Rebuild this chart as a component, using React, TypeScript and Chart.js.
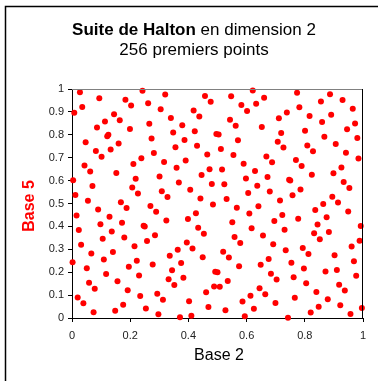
import React, { useEffect, useRef } from "react";
import { Chart, registerables } from "chart.js";

Chart.register(...registerables);

// Base-2 coordinates of points 1..256
const base2: number[] = [
  0.5, 0.25, 0.75, 0.125, 0.625, 0.375, 0.875, 0.0625, 0.5625, 0.3125, 0.8125, 0.1875, 0.6875, 0.4375, 0.9375,
  0.0313, 0.5313, 0.2813, 0.7813, 0.1563, 0.6563, 0.4063, 0.9063, 0.0938, 0.5938, 0.3438, 0.8438, 0.2188, 0.7188, 0.4688, 0.9688,
  0.0156, 0.5156, 0.2656, 0.7656, 0.1406, 0.6406, 0.3906, 0.8906, 0.0781, 0.5781, 0.3281, 0.8281, 0.2031, 0.7031, 0.4531, 0.9531,
  0.0469, 0.5469, 0.2969, 0.7969, 0.1719, 0.6719, 0.4219, 0.9219, 0.1094, 0.6094, 0.3594, 0.8594, 0.2344, 0.7344, 0.4844, 0.9844,
  0.0078, 0.5078, 0.2578, 0.7578, 0.1328, 0.6328, 0.3828, 0.8828, 0.0703, 0.5703, 0.3203, 0.8203, 0.1953, 0.6953, 0.4453, 0.9453,
  0.0391, 0.5391, 0.2891, 0.7891, 0.1641, 0.6641, 0.4141, 0.9141, 0.1016, 0.6016, 0.3516, 0.8516, 0.2266, 0.7266, 0.4766, 0.9766,
  0.0234, 0.5234, 0.2734, 0.7734, 0.1484, 0.6484, 0.3984, 0.8984, 0.0859, 0.5859, 0.3359, 0.8359, 0.2109, 0.7109, 0.4609, 0.9609,
  0.0547, 0.5547, 0.3047, 0.8047, 0.1797, 0.6797, 0.4297, 0.9297, 0.1172, 0.6172, 0.3672, 0.8672, 0.2422, 0.7422, 0.4922, 0.9922,
  0.0039, 0.5039, 0.2539, 0.7539, 0.1289, 0.6289, 0.3789, 0.8789, 0.0664, 0.5664, 0.3164, 0.8164, 0.1914, 0.6914, 0.4414, 0.9414,
  0.0352, 0.5352, 0.2852, 0.7852, 0.1602, 0.6602, 0.4102, 0.9102, 0.0977, 0.5977, 0.3477, 0.8477, 0.2227, 0.7227, 0.4727, 0.9727,
  0.0195, 0.5195, 0.2695, 0.7695, 0.1445, 0.6445, 0.3945, 0.8945, 0.082, 0.582, 0.332, 0.832, 0.207, 0.707, 0.457, 0.957,
  0.0508, 0.5508, 0.3008, 0.8008, 0.1758, 0.6758, 0.4258, 0.9258, 0.1133, 0.6133, 0.3633, 0.8633, 0.2383, 0.7383, 0.4883, 0.9883,
  0.0117, 0.5117, 0.2617, 0.7617, 0.1367, 0.6367, 0.3867, 0.8867, 0.0742, 0.5742, 0.3242, 0.8242, 0.1992, 0.6992, 0.4492, 0.9492,
  0.043, 0.543, 0.293, 0.793, 0.168, 0.668, 0.418, 0.918, 0.1055, 0.6055, 0.3555, 0.8555, 0.2305, 0.7305, 0.4805, 0.9805,
  0.0273, 0.5273, 0.2773, 0.7773, 0.1523, 0.6523, 0.4023, 0.9023, 0.0898, 0.5898, 0.3398, 0.8398, 0.2148, 0.7148, 0.4648, 0.9648,
  0.0586, 0.5586, 0.3086, 0.8086, 0.1836, 0.6836, 0.4336, 0.9336, 0.1211, 0.6211, 0.3711, 0.8711, 0.2461, 0.7461, 0.4961, 0.9961,
  0.002,
];

// Base-5 coordinates of points 1..256
const base5: number[] = [
  0.2, 0.4, 0.6, 0.8, 0.04, 0.24, 0.44, 0.64, 0.84, 0.08, 0.28, 0.48, 0.68, 0.88, 0.12, 0.32, 0.52, 0.72, 0.92, 0.16, 0.36, 0.56, 0.76, 0.96,
  0.008, 0.208, 0.408, 0.608, 0.808, 0.048, 0.248, 0.448, 0.648, 0.848, 0.088, 0.288, 0.488, 0.688, 0.888, 0.128, 0.328, 0.528, 0.728, 0.928, 0.168, 0.368, 0.568, 0.768, 0.968,
  0.016, 0.216, 0.416, 0.616, 0.816, 0.056, 0.256, 0.456, 0.656, 0.856, 0.096, 0.296, 0.496, 0.696, 0.896, 0.136, 0.336, 0.536, 0.736, 0.936, 0.176, 0.376, 0.576, 0.776, 0.976,
  0.024, 0.224, 0.424, 0.624, 0.824, 0.064, 0.264, 0.464, 0.664, 0.864, 0.104, 0.304, 0.504, 0.704, 0.904, 0.144, 0.344, 0.544, 0.744, 0.944, 0.184, 0.384, 0.584, 0.784, 0.984,
  0.032, 0.232, 0.432, 0.632, 0.832, 0.072, 0.272, 0.472, 0.672, 0.872, 0.112, 0.312, 0.512, 0.712, 0.912, 0.152, 0.352, 0.552, 0.752, 0.952, 0.192, 0.392, 0.592, 0.792, 0.992,
  0.0016, 0.2016, 0.4016, 0.6016, 0.8016, 0.0416, 0.2416, 0.4416, 0.6416, 0.8416, 0.0816, 0.2816, 0.4816, 0.6816, 0.8816, 0.1216, 0.3216, 0.5216, 0.7216, 0.9216, 0.1616, 0.3616, 0.5616, 0.7616, 0.9616,
  0.0096, 0.2096, 0.4096, 0.6096, 0.8096, 0.0496, 0.2496, 0.4496, 0.6496, 0.8496, 0.0896, 0.2896, 0.4896, 0.6896, 0.8896, 0.1296, 0.3296, 0.5296, 0.7296, 0.9296, 0.1696, 0.3696, 0.5696, 0.7696, 0.9696,
  0.0176, 0.2176, 0.4176, 0.6176, 0.8176, 0.0576, 0.2576, 0.4576, 0.6576, 0.8576, 0.0976, 0.2976, 0.4976, 0.6976, 0.8976, 0.1376, 0.3376, 0.5376, 0.7376, 0.9376, 0.1776, 0.3776, 0.5776, 0.7776, 0.9776,
  0.0256, 0.2256, 0.4256, 0.6256, 0.8256, 0.0656, 0.2656, 0.4656, 0.6656, 0.8656, 0.1056, 0.3056, 0.5056, 0.7056, 0.9056, 0.1456, 0.3456, 0.5456, 0.7456, 0.9456, 0.1856, 0.3856, 0.5856, 0.7856, 0.9856,
  0.0336, 0.2336, 0.4336, 0.6336, 0.8336, 0.0736, 0.2736, 0.4736, 0.6736, 0.8736, 0.1136, 0.3136, 0.5136, 0.7136, 0.9136, 0.1536, 0.3536, 0.5536, 0.7536, 0.9536, 0.1936, 0.3936, 0.5936, 0.7936, 0.9936,
  0.0032, 0.2032, 0.4032, 0.6032, 0.8032, 0.0432, 0.2432,
];

const titleBold = "Suite de Halton";
const titleRest = " en dimension 2";
const subtitle = "256 premiers points";
const xTitle = "Base 2";
const yTitle = "Base 5";

const FONT = '"Liberation Sans", Arial, sans-serif';

const fmtTick = (v: any) => String(Number(Number(v).toFixed(1)));

const decorPlugin = {
  id: "decor",
  beforeDraw(chart: any) {
    const ctx = chart.ctx;
    ctx.save();
    ctx.fillStyle = "#ffffff";
    ctx.fillRect(0, 0, chart.width, chart.height);
    ctx.restore();
  },
  afterDatasetsDraw(chart: any) {
    const ctx = chart.ctx;
    const a = chart.chartArea;
    ctx.save();
    // top (grey) and right (black) frame of the plot area
    ctx.lineWidth = 1;
    ctx.strokeStyle = "#808080";
    ctx.beginPath();
    ctx.moveTo(a.left, a.top + 0.5);
    ctx.lineTo(a.right, a.top + 0.5);
    ctx.stroke();
    ctx.strokeStyle = "#000000";
    ctx.beginPath();
    ctx.moveTo(a.right - 0.5, a.top);
    ctx.lineTo(a.right - 0.5, a.bottom);
    ctx.stroke();

    // outer frame
    ctx.strokeStyle = "#000000";
    ctx.lineWidth = 1.5;
    ctx.beginPath();
    ctx.moveTo(5.5, chart.height + 5);
    ctx.lineTo(5.5, 6.5);
    ctx.lineTo(chart.width + 5, 6.5);
    ctx.stroke();

    // title
    ctx.textBaseline = "middle";
    ctx.textAlign = "left";
    ctx.fillStyle = "#000000";
    ctx.font = `bold 17px ${FONT}`;
    const w1 = ctx.measureText(titleBold).width;
    ctx.font = `17px ${FONT}`;
    const w2 = ctx.measureText(titleRest).width;
    const cx = 194;
    const x0 = cx - (w1 + w2) / 2;
    ctx.font = `bold 17px ${FONT}`;
    ctx.fillText(titleBold, x0, 30);
    ctx.font = `17px ${FONT}`;
    ctx.fillText(titleRest, x0 + w1, 30);
    ctx.textAlign = "center";
    ctx.fillText(subtitle, cx, 50);

    // x axis title
    ctx.font = `16px ${FONT}`;
    ctx.fillText(xTitle, 219, 356);

    // y axis title
    ctx.translate(30, 206);
    ctx.rotate(-Math.PI / 2);
    ctx.fillStyle = "#ff0000";
    ctx.font = `bold 16px ${FONT}`;
    ctx.fillText(yTitle, 0, 0);
    ctx.restore();
  },
};

export default function App() {
  const ref = useRef<HTMLCanvasElement | null>(null);

  useEffect(() => {
    if (!ref.current) return;
    const points = base2.map((x, i) => ({ x, y: base5[i] }));
    const chart = new Chart(ref.current, {
      type: "scatter",
      data: {
        datasets: [
          {
            data: points,
            pointRadius: 3,
            pointHoverRadius: 3,
            pointBackgroundColor: "#ff0000",
            pointBorderWidth: 0,
            borderColor: "#ff0000",
            clip: false as any,
          },
        ],
      },
      options: {
        animation: false,
        responsive: false,
        maintainAspectRatio: false,
        events: [],
        layout: { padding: { left: 0, right: 15, top: 89, bottom: 33 } },
        plugins: {
          legend: { display: false },
          title: { display: false },
          tooltip: { enabled: false },
        },
        scales: {
          x: {
            type: "linear",
            min: 0,
            max: 1,
            afterFit: (s: any) => {
              s.height = 30;
            },
            border: { display: true, color: "#000000", width: 1 },
            grid: { drawOnChartArea: false, drawTicks: true, tickLength: 4, color: "#000000" },
            ticks: {
              stepSize: 0.2,
              padding: 7,
              color: "#222222",
              font: { family: FONT, size: 11 },
              maxRotation: 0,
              callback: fmtTick,
            },
          },
          y: {
            type: "linear",
            min: 0,
            max: 1,
            afterFit: (s: any) => {
              s.width = 72;
            },
            border: { display: true, color: "#000000", width: 1 },
            grid: { drawOnChartArea: false, drawTicks: true, tickLength: 4, color: "#000000" },
            ticks: {
              stepSize: 0.1,
              padding: 4,
              color: "#222222",
              font: { family: FONT, size: 11 },
              callback: fmtTick,
            },
          },
        },
      },
      plugins: [decorPlugin],
    } as any);
    return () => chart.destroy();
  }, []);

  return (
    <div style={{ position: "absolute", left: 0, top: 0, width: 378, height: 381 }}>
      <canvas ref={ref} width={378} height={381} style={{ width: 378, height: 381, display: "block" }} />
    </div>
  );
}
